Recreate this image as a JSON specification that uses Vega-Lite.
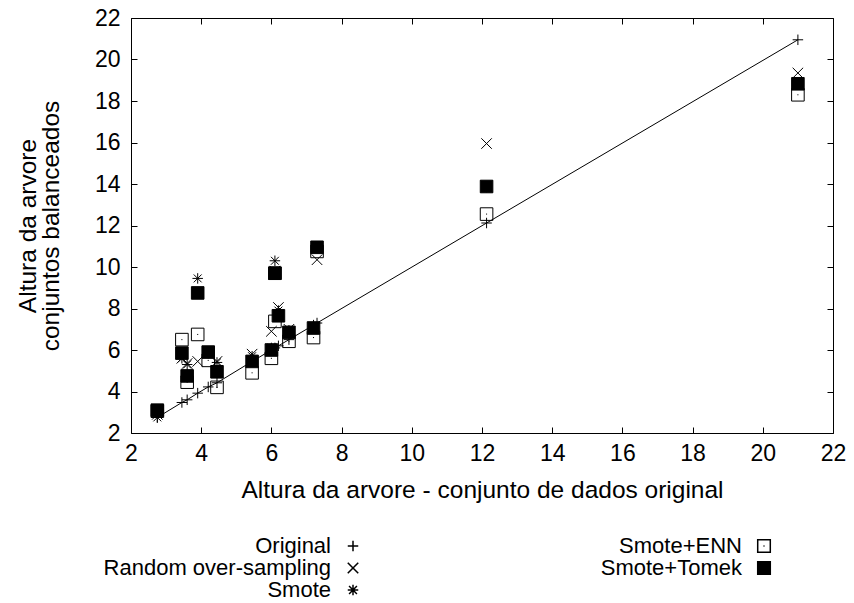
{
  "$schema": "https://vega.github.io/schema/vega-lite/v6.json",
  "width": 702,
  "height": 415,
  "autosize": {"type": "none"},
  "padding": {"left": 131, "top": 18, "right": 21, "bottom": 170},
  "background": "white",
  "config": {
    "font": "Liberation Sans",
    "view": {"stroke": "black", "strokeWidth": 1},
    "axis": {"labelFont": "Liberation Sans", "titleFont": "Liberation Sans", "labelFontSize": 23, "titleFontSize": 24.5, "titleFontWeight": "normal", "labelColor": "black", "titleColor": "black", "tickColor": "black", "domain": false, "grid": false, "tickSize": -6, "tickWidth": 1, "labelFlush": false},
    "legend": {"labelFont": "Liberation Sans", "labelFontSize": 22, "labelColor": "black"}
  },
  "data": {"values": [
    {"s": "Original", "x": 2.75, "y": 2.75},
    {"s": "Original", "x": 3.45, "y": 3.47},
    {"s": "Original", "x": 3.6, "y": 3.6},
    {"s": "Original", "x": 3.9, "y": 3.92},
    {"s": "Original", "x": 4.2, "y": 4.22},
    {"s": "Original", "x": 4.45, "y": 4.42},
    {"s": "Original", "x": 5.45, "y": 5.45},
    {"s": "Original", "x": 6.0, "y": 6.0},
    {"s": "Original", "x": 6.1, "y": 6.1},
    {"s": "Original", "x": 6.2, "y": 6.2},
    {"s": "Original", "x": 6.5, "y": 6.5},
    {"s": "Original", "x": 7.2, "y": 7.2},
    {"s": "Original", "x": 7.3, "y": 7.3},
    {"s": "Original", "x": 12.13, "y": 12.12},
    {"s": "Original", "x": 21.0, "y": 20.95},
    {"s": "Random over-sampling", "x": 2.75, "y": 2.9},
    {"s": "Random over-sampling", "x": 3.45, "y": 5.6},
    {"s": "Random over-sampling", "x": 3.6, "y": 5.35},
    {"s": "Random over-sampling", "x": 3.9, "y": 5.45},
    {"s": "Random over-sampling", "x": 4.2, "y": 5.9},
    {"s": "Random over-sampling", "x": 4.45, "y": 5.45},
    {"s": "Random over-sampling", "x": 5.45, "y": 5.8},
    {"s": "Random over-sampling", "x": 6.0, "y": 6.9},
    {"s": "Random over-sampling", "x": 6.1, "y": 9.8},
    {"s": "Random over-sampling", "x": 6.2, "y": 8.05},
    {"s": "Random over-sampling", "x": 6.5, "y": 7.0},
    {"s": "Random over-sampling", "x": 7.2, "y": 7.1},
    {"s": "Random over-sampling", "x": 7.3, "y": 10.35},
    {"s": "Random over-sampling", "x": 12.13, "y": 15.95},
    {"s": "Random over-sampling", "x": 21.0, "y": 19.35},
    {"s": "Smote", "x": 2.75, "y": 2.75},
    {"s": "Smote", "x": 3.45, "y": 5.6},
    {"s": "Smote", "x": 3.6, "y": 5.3},
    {"s": "Smote", "x": 3.9, "y": 9.45},
    {"s": "Smote", "x": 4.2, "y": 5.85},
    {"s": "Smote", "x": 4.45, "y": 5.4},
    {"s": "Smote", "x": 5.45, "y": 5.7},
    {"s": "Smote", "x": 6.0, "y": 6.1},
    {"s": "Smote", "x": 6.1, "y": 10.3},
    {"s": "Smote", "x": 6.2, "y": 7.9},
    {"s": "Smote", "x": 6.5, "y": 6.95},
    {"s": "Smote", "x": 7.2, "y": 7.15},
    {"s": "Smote", "x": 7.3, "y": 11.0},
    {"s": "Smote", "x": 12.13, "y": 13.85},
    {"s": "Smote", "x": 21.0, "y": 18.8},
    {"s": "Smote+ENN", "x": 2.75, "y": 3.05},
    {"s": "Smote+ENN", "x": 3.45, "y": 6.5},
    {"s": "Smote+ENN", "x": 3.6, "y": 4.45},
    {"s": "Smote+ENN", "x": 3.9, "y": 6.75},
    {"s": "Smote+ENN", "x": 4.2, "y": 5.5},
    {"s": "Smote+ENN", "x": 4.45, "y": 4.2},
    {"s": "Smote+ENN", "x": 5.45, "y": 4.9},
    {"s": "Smote+ENN", "x": 6.0, "y": 5.6},
    {"s": "Smote+ENN", "x": 6.1, "y": 9.7},
    {"s": "Smote+ENN", "x": 6.1, "y": 7.38},
    {"s": "Smote+ENN", "x": 6.5, "y": 6.42},
    {"s": "Smote+ENN", "x": 7.2, "y": 6.6},
    {"s": "Smote+ENN", "x": 7.3, "y": 10.75},
    {"s": "Smote+ENN", "x": 12.13, "y": 12.55},
    {"s": "Smote+ENN", "x": 21.0, "y": 18.3},
    {"s": "Smote+Tomek", "x": 2.75, "y": 3.1},
    {"s": "Smote+Tomek", "x": 3.45, "y": 5.85},
    {"s": "Smote+Tomek", "x": 3.6, "y": 4.75},
    {"s": "Smote+Tomek", "x": 3.9, "y": 8.75},
    {"s": "Smote+Tomek", "x": 4.2, "y": 5.9},
    {"s": "Smote+Tomek", "x": 4.45, "y": 4.95},
    {"s": "Smote+Tomek", "x": 5.45, "y": 5.45},
    {"s": "Smote+Tomek", "x": 6.0, "y": 6.0},
    {"s": "Smote+Tomek", "x": 6.1, "y": 9.7},
    {"s": "Smote+Tomek", "x": 6.2, "y": 7.65},
    {"s": "Smote+Tomek", "x": 6.5, "y": 6.85},
    {"s": "Smote+Tomek", "x": 7.2, "y": 7.06},
    {"s": "Smote+Tomek", "x": 7.3, "y": 10.95},
    {"s": "Smote+Tomek", "x": 12.13, "y": 13.88},
    {"s": "Smote+Tomek", "x": 21.0, "y": 18.83}
  ]},
  "resolve": {"axis": {"x": "independent", "y": "independent"}},
  "layer": [
    {
      "transform": [{"filter": "datum.s === 'Original'"}],
      "mark": {"type": "line", "color": "black", "strokeWidth": 1},
      "encoding": {
        "x": {"field": "x", "type": "quantitative", "scale": {"domain": [2, 22], "nice": false, "zero": false},
              "axis": {"orient": "top", "labels": false, "title": null, "values": [2,4,6,8,10,12,14,16,18,20,22]}},
        "y": {"field": "y", "type": "quantitative", "scale": {"domain": [2, 22], "nice": false, "zero": false},
              "axis": {"orient": "right", "labels": false, "title": null, "values": [2,4,6,8,10,12,14,16,18,20,22]}}
      }
    },
    {
      "mark": {"type": "point", "stroke": "black", "strokeWidth": 1, "opacity": 1, "size": 110},
      "encoding": {
        "x": {"field": "x", "type": "quantitative", "scale": {"domain": [2, 22], "nice": false, "zero": false},
              "axis": {"orient": "bottom", "title": "Altura da arvore - conjunto de dados original", "values": [2,4,6,8,10,12,14,16,18,20,22], "labelPadding": 15, "titlePadding": 13}},
        "y": {"field": "y", "type": "quantitative", "scale": {"domain": [2, 22], "nice": false, "zero": false},
              "axis": {"orient": "left", "title": ["Altura da arvore", "conjuntos balanceados"], "values": [2,4,6,8,10,12,14,16,18,20,22], "labelPadding": 17, "titlePadding": 31, "titleLineHeight": 23}},
        "shape": {"field": "s", "type": "nominal",
          "scale": {"domain": ["Original", "Random over-sampling", "Smote", "Smote+ENN", "Smote+Tomek"],
                    "range": ["M-1,0L1,0M0,-1L0,1", "M-1,-1L1,1M-1,1L1,-1", "M-1,0L1,0M0,-1L0,1M-0.75,-0.75L0.75,0.75M-0.75,0.75L0.75,-0.75", "M-1.2,-1.2L1.2,-1.2L1.2,1.2L-1.2,1.2ZM-0.1,0L0.1,0", "M-1.2,-1.2L1.2,-1.2L1.2,1.2L-1.2,1.2Z"]},
          "legend": {"title": null, "orient": "none", "legendX": 158, "legendY": 517, "columns": 2, "direction": "vertical", "labelAlign": "right", "labelOffset": -33, "symbolOffset": 53, "columnPadding": 238, "rowPadding": 0, "labelLimit": 400, "symbolSize": 110,
                     "encode": {"symbols": {"update": {"stroke": {"value": "black"}, "strokeWidth": {"value": 1}}}}}},
        "fill": {"field": "s", "type": "nominal",
          "scale": {"domain": ["Original", "Random over-sampling", "Smote", "Smote+ENN", "Smote+Tomek"],
                    "range": ["transparent", "transparent", "transparent", "transparent", "black"]},
          "legend": {"title": null, "orient": "none", "legendX": 158, "legendY": 517, "columns": 2, "direction": "vertical", "labelAlign": "right", "labelOffset": -33, "symbolOffset": 53, "columnPadding": 238, "rowPadding": 0, "labelLimit": 400, "symbolSize": 110,
                     "encode": {"symbols": {"update": {"stroke": {"value": "black"}, "strokeWidth": {"value": 1}}}}}}
      }
    }
  ]
}
